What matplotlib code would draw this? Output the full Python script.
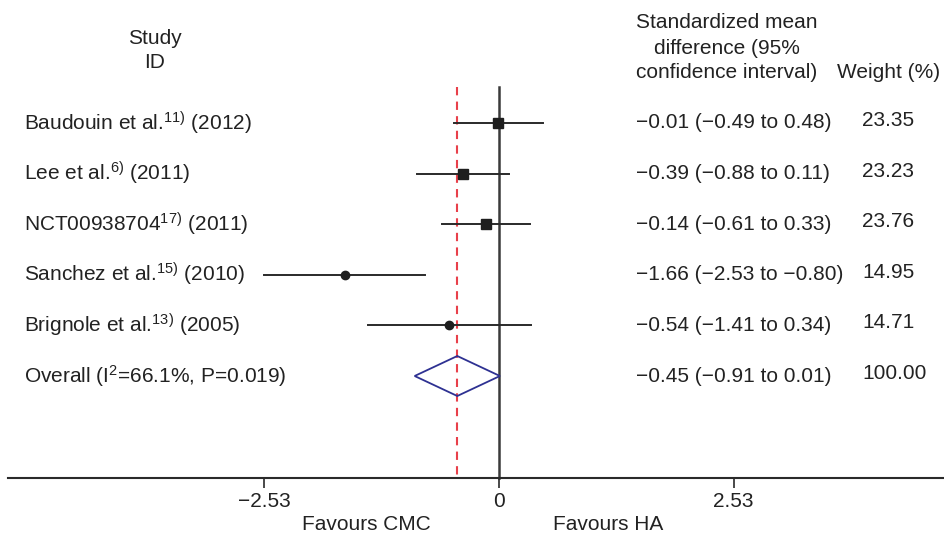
import numpy as np
import matplotlib.pyplot as plt
import matplotlib.transforms as mtransforms
from matplotlib.patches import Polygon

plt.rcParams["font.family"] = ["Liberation Sans", "DejaVu Sans"]
plt.rcParams["mathtext.fontset"] = "custom"
plt.rcParams["mathtext.rm"] = "Liberation Sans"
plt.rcParams["mathtext.it"] = "Liberation Sans"

# data
studies = ["Baudouin et al.", "Lee et al.", "NCT00938704", "Sanchez et al.", "Brignole et al."]
refs = ["11)", "6)", "17)", "15)", "13)"]
years = ["2012", "2011", "2011", "2010", "2005"]
smd = [-0.01, -0.39, -0.14, -1.66, -0.54]
ci_low = [-0.49, -0.88, -0.61, -2.53, -1.41]
ci_high = [0.48, 0.11, 0.33, -0.80, 0.34]
weights = ["23.35", "23.23", "23.76", "14.95", "14.71"]
markers = ["s", "s", "s", "o", "o"]
overall = -0.45
overall_low = -0.91
overall_high = 0.01
overall_label = "Overall (I$^{\\mathregular{2}}$=66.1%, P=0.019)"
overall_weight = "100.00"
xticks = [-2.53, 0, 2.53]
xticklabels = ["\u22122.53", "0", "2.53"]


def fmt(v):
    return ("%.2f" % v).replace("-", "\u2212")


W, H = 945, 537
fig = plt.figure(figsize=(W / 100, H / 100), dpi=100)
ax = fig.add_axes([0, 0, 1, 1])

# pixel layout -> data scales
x_zero, ppu = 499, 92.7
row0, row_gap = 123, 50.6
ax.set_xlim(-x_zero / ppu, (W - x_zero) / ppu)
ax.set_ylim((H - row0) / row_gap, -row0 / row_gap)
axis_row = (478 - row0) / row_gap
top_row = (87 - row0) / row_gap

trans = mtransforms.blended_transform_factory(ax.transAxes, ax.transData)
fs = 15
tc = "#222222"

# reference lines
ax.plot([0, 0], [top_row, axis_row], color="#3a3a3a", lw=1.8, zorder=1)
ax.plot([overall, overall], [top_row, axis_row], color="#e8404a", lw=1.5,
        ls=(0, (4, 3)), zorder=2)

for i in range(len(studies)):
    ax.plot([ci_low[i], ci_high[i]], [i, i], color="#2a2a2a", lw=1.4, zorder=3)
    ax.plot(smd[i], i, marker=markers[i], color="#1e1e1e",
            markersize=6.5 if markers[i] == "s" else 6, zorder=4)
    label = "%s$^{\\mathregular{%s}}$ (%s)" % (studies[i], refs[i], years[i])
    ax.text(24 / W, i, label, transform=trans, fontsize=fs, va="center", ha="left", color=tc)
    ax.text(636 / W, i, "%s (%s to %s)" % (fmt(smd[i]), fmt(ci_low[i]), fmt(ci_high[i])),
            transform=trans, fontsize=fs, va="center", ha="left", color=tc)
    ax.text(862 / W, i - 0.05, weights[i], transform=trans, fontsize=fs, va="center",
            ha="left", color=tc)

# overall diamond
n = len(studies)
half_h = 20 / row_gap
diamond = Polygon([[overall_low, n], [overall, n - half_h], [overall_high, n], [overall, n + half_h]],
                  closed=True, fill=False, edgecolor="#2e3192", lw=1.3, zorder=5)
ax.add_patch(diamond)
ax.text(24 / W, n, overall_label, transform=trans, fontsize=fs, va="center", ha="left", color=tc)
ax.text(636 / W, n, "%s (%s to %s)" % (fmt(overall), fmt(overall_low), fmt(overall_high)),
        transform=trans, fontsize=fs, va="center", ha="left", color=tc)
ax.text(862 / W, n - 0.05, overall_weight, transform=trans, fontsize=fs, va="center",
        ha="left", color=tc)

# headers
ax.text(155 / W, (38 - row0) / row_gap, "Study", transform=trans, fontsize=fs, ha="center", va="center", color=tc)
ax.text(155 / W, (63 - row0) / row_gap, "ID", transform=trans, fontsize=fs, ha="center", va="center", color=tc)
for txt, ypx in [("Standardized mean", 23), ("difference (95%", 48), ("confidence interval)", 73)]:
    ax.text(727 / W, (ypx - row0) / row_gap, txt, transform=trans, fontsize=fs,
            ha="center", va="center", color=tc)
ax.text(837 / W, (73 - row0) / row_gap, "Weight (%)", transform=trans, fontsize=fs,
        ha="left", va="center", color=tc)

# bottom axis
for s in ["left", "right", "top"]:
    ax.spines[s].set_visible(False)
ax.spines["bottom"].set_position(("data", axis_row))
ax.spines["bottom"].set_bounds((8 - x_zero) / ppu, (W - x_zero) / ppu)
ax.spines["bottom"].set_linewidth(1.5)
ax.spines["bottom"].set_color("#2a2a2a")
ax.set_yticks([])
ax.set_xticks(xticks)
ax.set_xticklabels(xticklabels, fontsize=15, color=tc)
ax.tick_params(axis="x", direction="out", length=7, width=1.2, color="#2a2a2a", pad=3)
ax.text(366 / W, (525 - row0) / row_gap, "Favours CMC", transform=trans, fontsize=15,
        ha="center", va="center", color=tc)
ax.text(608 / W, (525 - row0) / row_gap, "Favours HA", transform=trans, fontsize=15,
        ha="center", va="center", color=tc)

fig.savefig("out.png", dpi=100)
